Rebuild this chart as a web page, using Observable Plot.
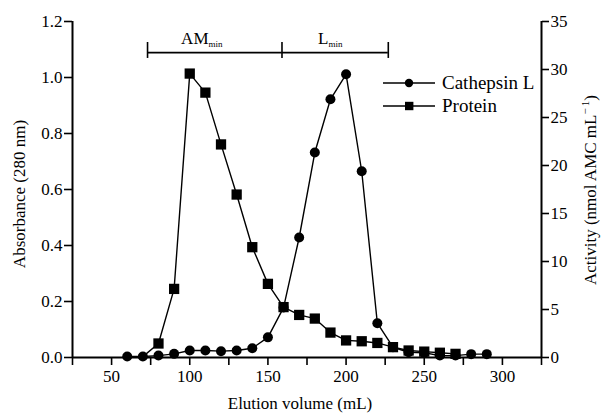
<!DOCTYPE html>
<html>
<head>
<meta charset="utf-8">
<script src="https://cdn.jsdelivr.net/npm/d3@7"></script>
<script src="https://cdn.jsdelivr.net/npm/@observablehq/plot@0.6"></script>
<style>
  html, body { margin: 0; padding: 0; background: #fff; }
  #wrap { position: relative; width: 602px; height: 413px; }
  svg, svg text, svg g { font-family: "Liberation Serif", "Times New Roman", serif !important; }
</style>
</head>
<body>
<div id="wrap"></div>
<script>
// ---- data ----
const cathepsinVolume = [60,70,80,90,100,110,120,130,140,150,160,170,180,190,200,210,220,230,240,250,260,270,280,290];
const cathepsinActivity = [0.1,0.1,0.2,0.38,0.73,0.73,0.66,0.73,0.97,2.1,5.2,12.5,21.35,26.9,29.5,19.4,3.57,1.07,0.55,0.5,0.2,0.2,0.35,0.35];
const proteinVolume = [70,80,90,100,110,120,130,140,150,160,170,180,190,200,210,220,230,240,250,260,270];
const proteinAbsorbance = [0.003,0.05,0.245,1.014,0.946,0.761,0.582,0.394,0.263,0.18,0.152,0.139,0.089,0.061,0.058,0.052,0.037,0.025,0.021,0.017,0.013];
const xTicks = [25,50,75,100,125,150,175,200,225,250,275,300,325];
const leftTicks = [0,0.2,0.4,0.6,0.8,1.0,1.2];
const rightTicks = [0,5,10,15,20,25,30,35];
const brackets = [{x1:73, x2:159}, {x1:159, x2:227}];
const bracketEnds = [73,159,227];
const bracketLabels = [{label:"AM", x:112}, {label:"L", x:188.7}];

const leftMax = 1.2, rightMax = 35;
const toLeft = v => v * leftMax / rightMax;
const fromLeft = v => v * rightMax / leftMax;

const cathepsin = cathepsinVolume.map((x,i) => ({x, y: toLeft(cathepsinActivity[i])}));
const protein = proteinVolume.map((x,i) => ({x, y: proteinAbsorbance[i]}));

const SERIF = "Liberation Serif";

const chart = Plot.plot({
  width: 602, height: 413,
  marginLeft: 72, marginRight: 61, marginTop: 21, marginBottom: 56,
  style: {fontFamily: SERIF, fontSize: "17px", color: "black", background: "white", overflow: "visible"},
  x: {domain: [25, 325]},
  y: {domain: [0, 1.2]},
  marks: [
    Plot.axisX({ticks: xTicks, tickSize: 8, strokeWidth: 1.6, tickPadding: 4, tickFormat: d => d % 50 === 0 ? String(d) : "", label: null, fontSize: 17, fontFamily: SERIF}),
    Plot.axisY({ticks: leftTicks, tickSize: 8, strokeWidth: 1.6, tickPadding: 2, tickFormat: d => d.toFixed(1), label: null, fontSize: 17, fontFamily: SERIF}),
    Plot.axisY({anchor: "right", ticks: rightTicks.map(toLeft), tickSize: 7, strokeWidth: 1.6, tickPadding: 2, tickFormat: d => String(Math.round(fromLeft(d))), label: null, fontSize: 17, fontFamily: SERIF}),
    Plot.ruleX([25], {strokeWidth: 2}),
    Plot.ruleX([325], {strokeWidth: 2}),
    Plot.ruleY([0], {strokeWidth: 2}),
    // brackets
    Plot.ruleY(brackets, {y: 1.089, x1: "x1", x2: "x2", strokeWidth: 1.6}),
    Plot.ruleX(bracketEnds, {x: d => d, y1: 1.068, y2: 1.125, strokeWidth: 1.6}),
    Plot.text(bracketLabels, {x: "x", y: 1.139, text: "label", textAnchor: "end", fontSize: 17, fontFamily: SERIF}),
    Plot.text(bracketLabels, {x: "x", y: 1.118, text: () => "min", textAnchor: "start", fontSize: 9, fontFamily: SERIF}),
    // series
    Plot.line(protein, {x: "x", y: "y", stroke: "black", strokeWidth: 1.4}),
    Plot.line(cathepsin, {x: "x", y: "y", stroke: "black", strokeWidth: 1.4}),
    Plot.dot(protein, {x: "x", y: "y", symbol: "square", r: 5.8, fill: "black", filter: d => d.x >= 80}),
    Plot.dot(cathepsin, {x: "x", y: "y", symbol: "circle", r: 5, fill: "black"})
  ]
});

const wrap = document.getElementById("wrap");
wrap.appendChild(chart);

// axis titles
const svg = d3.select(chart);
svg.append("text")
  .attr("transform", "translate(25,194) rotate(-90)")
  .attr("text-anchor", "middle").attr("font-size", 17).attr("fill", "black").attr("font-family", SERIF)
  .text("Absorbance (280 nm)");
const rt = svg.append("text")
  .attr("transform", "translate(596,190) rotate(-90)")
  .attr("text-anchor", "middle").attr("font-size", 17).attr("fill", "black").attr("font-family", SERIF);
rt.append("tspan").text("Activity (nmol AMC mL");
rt.append("tspan").attr("dy", -7).attr("font-size", 11).text("\u2212\u20091");
rt.append("tspan").attr("dy", 7).text(")");
svg.append("text")
  .attr("x", 300).attr("y", 409)
  .attr("text-anchor", "middle").attr("font-size", 17).attr("fill", "black").attr("font-family", SERIF)
  .text("Elution volume (mL)");

// legend
const legendItems = [{label: "Cathepsin L", symbol: "circle"}, {label: "Protein", symbol: "square"}];
const leg = d3.select(wrap).append("svg")
  .attr("width", 180).attr("height", 50)
  .style("position", "absolute").style("left", "380px").style("top", "70px");
legendItems.forEach((it, i) => {
  const y = 13 + i * 23;
  leg.append("line").attr("x1", 3).attr("x2", 55).attr("y1", y).attr("y2", y).attr("stroke", "black").attr("stroke-width", 1.4);
  if (it.symbol === "circle") leg.append("circle").attr("cx", 29).attr("cy", y).attr("r", 4.2).attr("fill", "black");
  else leg.append("rect").attr("x", 25).attr("y", y - 4.2).attr("width", 8.4).attr("height", 8.4).attr("fill", "black");
  leg.append("text").attr("x", 62).attr("y", y + 6).attr("font-size", 19).attr("fill", "black").attr("font-family", SERIF).text(it.label);
});
</script>
</body>
</html>
